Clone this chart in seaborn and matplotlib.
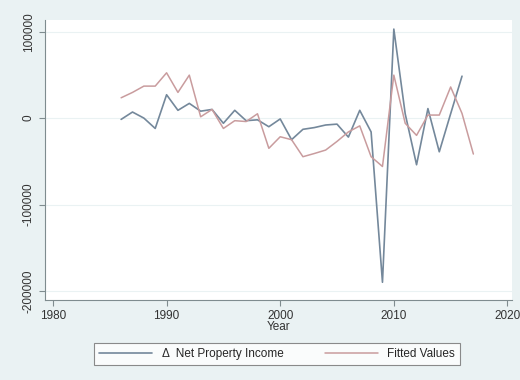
import pandas as pd
import matplotlib
matplotlib.use("Agg")
import matplotlib.pyplot as plt
import seaborn as sns

# ============================================================
# data
# ============================================================

years_actual = list(range(1986, 2017))
net_property_income = [
    -1500, 7000, 0, -12000, 27000, 9000, 17000, 8000, 10000, -6000,
    9000, -3000, -2000, -10000, -1000, -25000, -13000, -11000, -8000, -7000,
    -22000, 9000, -16000, -190000, 103000, 5000, -54000, 11000, -39000, 5000,
    48500,
]

years_fitted = list(range(1986, 2018))
fitted_values = [
    23500, 29700, 37000, 37000, 52400, 29700, 49700, 1500, 10000, -12000,
    -3000, -4000, 5000, -35000, -21600, -25000, -44700, -41000, -37000, -27000,
    -16000, -9000, -44700, -56000, 49700, -6000, -20000, 3500, 3500, 36000,
    5400, -41600,
]

x_ticks = [1980, 1990, 2000, 2010, 2020]
y_ticks = [-200000, -100000, 0, 100000]

df_a = pd.DataFrame({"Year": years_actual, "value": net_property_income})
df_f = pd.DataFrame({"Year": years_fitted, "value": fitted_values})

# ============================================================
# style
# ============================================================

sns.set_style("white")
plt.rcParams["font.family"] = ["Liberation Sans", "DejaVu Sans"]
plt.rcParams["font.size"] = 8.5

BG = "#eaf2f3"
BLUE = "#74889b"
PINK = "#c99c9e"

fig = plt.figure(figsize=(5.2, 3.8), dpi=100, facecolor=BG)
ax = fig.add_axes([45 / 520, 80 / 380, 467 / 520, 280 / 380])
ax.set_facecolor("white")

sns.lineplot(data=df_a, x="Year", y="value", ax=ax, color=BLUE,
             linewidth=1.2, label="Δ  Net Property Income")
sns.lineplot(data=df_f, x="Year", y="value", ax=ax, color=PINK,
             linewidth=1.1, label="Fitted Values")

ax.set_xlim(1979.3, 2020.4)
ax.set_ylim(-210500, 113500)
ax.set_xticks(x_ticks)
ax.set_yticks(y_ticks)
ax.set_yticklabels([str(v) for v in y_ticks], rotation=90, va="center")
ax.grid(axis="y", color=BG, linewidth=0.8)
ax.set_axisbelow(True)

for s in ["top", "right"]:
    ax.spines[s].set_visible(False)
for s in ["left", "bottom"]:
    ax.spines[s].set_color("#7f8c8f")
    ax.spines[s].set_linewidth(0.8)

ax.tick_params(axis="both", length=4, color="#7f8c8f", labelcolor="#333333",
               labelsize=8.5, left=True, bottom=True)
ax.set_xlabel("Year", labelpad=-1, fontsize=8.5, color="#333333")
ax.set_ylabel("")

ax.get_legend().remove()
handles, labels = ax.get_legend_handles_labels()
leg = fig.legend(handles, labels, ncol=2, loc="center",
                 bbox_to_anchor=(277 / 520, 1 - 354 / 380),
                 frameon=True, fancybox=False, edgecolor="#6f6f6f",
                 handlelength=4.5, columnspacing=3.5, fontsize=8.5,
                 borderpad=0.4)
leg.get_frame().set_linewidth(0.8)

fig.savefig("out.png", dpi=100, facecolor=BG)
